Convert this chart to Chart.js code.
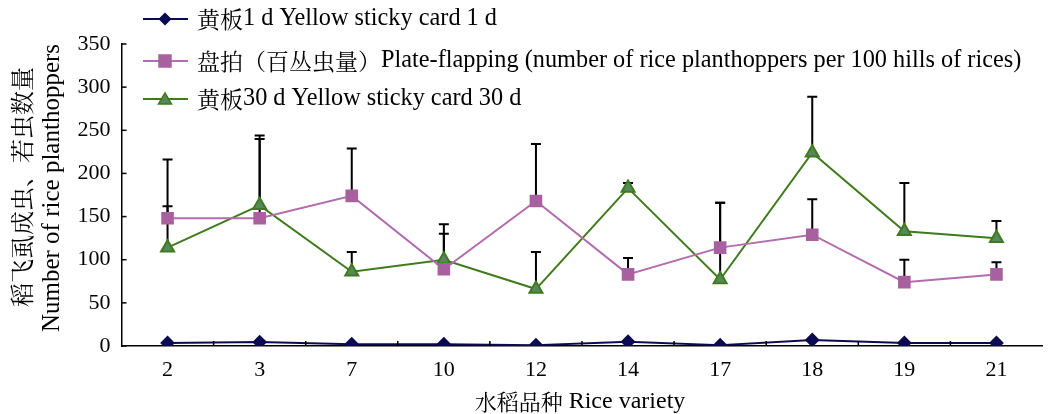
<!DOCTYPE html>
<html><head><meta charset="utf-8">
<script src="https://cdn.jsdelivr.net/npm/chart.js@4/dist/chart.umd.min.js"></script>
<style>
html,body{margin:0;padding:0;background:#fff;overflow:hidden;}
#wrap{width:1052px;height:414px;position:relative;}
</style></head>
<body><div id="wrap"><canvas id="c" width="1052" height="414"></canvas></div>
<script>
const categories = ['2','3','7','10','12','14','17','18','19','21'];
const yellow1d = [3.5, 4.5, 2, 2, 1, 5, 1, 7, 3.5, 3.5];
const plate = [148, 148, 174, 89, 168, 83, 114, 129, 74, 83];
const plateErr = [14, 96, 55, 52, 66, 19, 52, 41, 26, 14];
const yellow30d = [114, 163, 86, 100, 66, 183, 77, 224, 133, 125];
const yellow30dErr = [102, 77, 23, 30, 43, 6, 89, 65, 56, 20];
const yTicks = [0, 50, 100, 150, 200, 250, 300, 350];
const seriesNames = ['黄板1 d Yellow sticky card 1 d', '盘拍（百丛虫量）Plate-flapping (number of rice planthoppers per 100 hills of rices)', '黄板30 d Yellow sticky card 30 d'];
const xTitle = '水稻品种 Rice variety';
const yTitleCn = '稻飞虱成虫、若虫数量';
const yTitleEn = 'Number of rice planthoppers';

const LAT = '"Liberation Serif", "Times New Roman", serif';
const CJK = '"Noto Serif CJK SC", "Noto Sans CJK SC", sans-serif';
const errors = [null, plateErr, yellow30dErr];

function runs(text) {
  const out = []; const re = /[\u3000-\u303f\u3400-\u9fff\uff00-\uffef]/;
  for (const ch of text) {
    const c = re.test(ch);
    if (out.length && out[out.length - 1].c === c) out[out.length - 1].t += ch; else out.push({ t: ch, c });
  }
  return out;
}
function drawMixed(ctx, text, x, y, cs, ls, align) {
  const rs = runs(text);
  let w = 0;
  rs.forEach(r => { ctx.font = (r.c ? cs + 'px ' + CJK : ls + 'px ' + LAT); r.w = ctx.measureText(r.t).width; w += r.w; });
  let px = align === 'center' ? x - w / 2 : x;
  ctx.textAlign = 'left'; ctx.textBaseline = 'middle';
  rs.forEach(r => { ctx.font = (r.c ? cs + 'px ' + CJK : ls + 'px ' + LAT); ctx.fillText(r.t, px, y); px += r.w; });
}

const errPlugin = {
  id: 'errbars',
  beforeDatasetsDraw(chart) {
    const ctx = chart.ctx, y = chart.scales.y;
    ctx.save();
    ctx.strokeStyle = '#000'; ctx.lineWidth = 2;
    chart.data.datasets.forEach((ds, i) => {
      const e = errors[i]; if (!e) return;
      const meta = chart.getDatasetMeta(i);
      meta.data.forEach((pt, j) => {
        const x = pt.x, y0 = y.getPixelForValue(ds.data[j]), y1 = y.getPixelForValue(ds.data[j] + e[j]);
        ctx.beginPath(); ctx.moveTo(x, y0); ctx.lineTo(x, y1);
        ctx.moveTo(x - 5, y1); ctx.lineTo(x + 5, y1); ctx.stroke();
      });
    });
    ctx.restore();
  },
  afterDraw(chart) {
    const ctx = chart.ctx, xs = chart.scales.x, ys = chart.scales.y, ca = chart.chartArea;
    ctx.save();
    ctx.strokeStyle = '#000'; ctx.lineWidth = 1.5;
    yTicks.forEach(v => { const py = ys.getPixelForValue(v); ctx.beginPath(); ctx.moveTo(ca.left, py); ctx.lineTo(ca.left + 5, py); ctx.stroke(); });
    for (let k = 1; k < categories.length; k++) {
      const px = (xs.getPixelForValue(k - 1) + xs.getPixelForValue(k)) / 2;
      ctx.beginPath(); ctx.moveTo(px, ca.bottom); ctx.lineTo(px, ca.bottom - 5); ctx.stroke();
    }
    ctx.fillStyle = '#000';
    drawMixed(ctx, xTitle, 580, 402, 22, 24, 'center');
    ctx.save(); ctx.translate(22, 187); ctx.rotate(-Math.PI / 2);
    drawMixed(ctx, yTitleCn, 0, 0, 24, 24, 'center'); ctx.restore();
    ctx.save(); ctx.translate(52, 188); ctx.rotate(-Math.PI / 2);
    drawMixed(ctx, yTitleEn, 0, 0, 22, 25, 'center'); ctx.restore();
    const rows = [19, 61, 99];
    chart.data.datasets.forEach((ds, i) => {
      const yy = rows[i];
      ctx.strokeStyle = ds.borderColor; ctx.lineWidth = 2;
      ctx.beginPath(); ctx.moveTo(143, yy); ctx.lineTo(188, yy); ctx.stroke();
      ctx.fillStyle = ds.pointBackgroundColor; ctx.strokeStyle = ds.pointBorderColor; ctx.lineWidth = 1.5;
      const cx = 165;
      ctx.beginPath();
      if (ds.pointStyle === 'rectRot') { const r = 5.5; ctx.moveTo(cx, yy - r); ctx.lineTo(cx + r, yy); ctx.lineTo(cx, yy + r); ctx.lineTo(cx - r, yy); ctx.closePath(); }
      else if (ds.pointStyle === 'rect') { ctx.rect(cx - 6, yy - 6, 12, 12); }
      else { ctx.moveTo(cx, yy - 6); ctx.lineTo(cx + 6.5, yy + 5); ctx.lineTo(cx - 6.5, yy + 5); ctx.closePath(); }
      ctx.fill(); ctx.stroke();
      ctx.fillStyle = '#000';
      drawMixed(ctx, seriesNames[i], 197, yy, 23, 24.3, 'left');
    });
    ctx.restore();
  }
};

new Chart(document.getElementById('c'), {
  type: 'line',
  data: {
    labels: categories,
    datasets: [
      { label: seriesNames[0], data: yellow1d, borderColor: '#0b0b52', backgroundColor: '#0b0b52', pointBackgroundColor: '#0b0b52', pointBorderColor: '#0b0b52', pointStyle: 'rectRot', pointRadius: 6, borderWidth: 2 },
      { label: seriesNames[1], data: plate, borderColor: '#b36cad', backgroundColor: '#a8609f', pointBackgroundColor: '#a8609f', pointBorderColor: '#a8609f', pointStyle: 'rect', pointRadius: 7.5, borderWidth: 2 },
      { label: seriesNames[2], data: yellow30d, borderColor: '#3f7a1c', backgroundColor: '#55895c', pointBackgroundColor: '#55895c', pointBorderColor: '#3f7a1c', pointStyle: 'triangle', pointRadius: 7.5, borderWidth: 2 }
    ]
  },
  options: {
    responsive: false, animation: false,
    layout: { padding: { top: 44, right: 1.5, left: 0, bottom: 0 } },
    plugins: { legend: { display: false }, tooltip: { enabled: false } },
    elements: { line: { tension: 0 }, point: { borderWidth: 1.5 } },
    scales: {
      x: {
        offset: true,
        grid: { display: false, drawTicks: false },
        border: { display: true, color: '#000', width: 1.5 },
        ticks: { color: '#000', font: { family: LAT, size: 22 }, padding: 11, maxRotation: 0 },
        afterFit: s => { s.height = 68; }
      },
      y: {
        min: 0, max: 350,
        grid: { display: false, drawTicks: false },
        border: { display: true, color: '#000', width: 1.5 },
        ticks: { stepSize: 50, color: '#000', font: { family: LAT, size: 22 }, padding: 11 },
        afterFit: s => { s.width = 121.5; }
      }
    }
  },
  plugins: [errPlugin]
});
</script></body></html>
